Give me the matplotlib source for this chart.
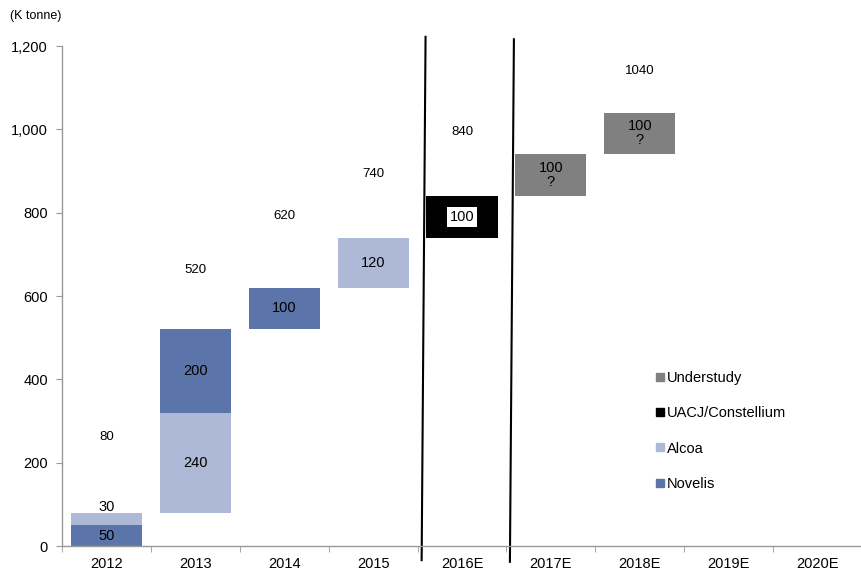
import matplotlib.pyplot as plt
from matplotlib.lines import Line2D
import numpy as np

plt.rcParams['font.family'] = ['Liberation Sans', 'DejaVu Sans']

categories = ['2012', '2013', '2014', '2015', '2016E', '2017E', '2018E', '2019E', '2020E']

novelis_val = [50, 200, 100, 0, 0, 0, 0, 0, 0]
novelis_bottom = [0, 320, 520, 0, 0, 0, 0, 0, 0]
alcoa_val = [30, 240, 0, 120, 0, 0, 0, 0, 0]
alcoa_bottom = [50, 80, 0, 620, 0, 0, 0, 0, 0]
uacj_val = [0, 0, 0, 0, 100, 0, 0, 0, 0]
uacj_bottom = [0, 0, 0, 0, 740, 0, 0, 0, 0]
under_val = [0, 0, 0, 0, 0, 100, 100, 0, 0]
under_bottom = [0, 0, 0, 0, 0, 840, 940, 0, 0]

totals = [80, 520, 620, 740, 840, None, 1040, None, None]
total_label_y = [262, 662, 792, 893, 994, None, 1140, None, None]

c_nov = '#5b74a9'
c_alc = '#adb9d7'
c_uacj = '#000000'
c_und = '#808080'

fig = plt.figure(figsize=(8.62, 5.76), dpi=100)
ax = fig.add_axes([62/862, 30/576, 800/862, 500/576])

x = np.arange(len(categories))
w = 0.8
ax.bar(x, novelis_val, w, bottom=novelis_bottom, color=c_nov)
ax.bar(x, alcoa_val, w, bottom=alcoa_bottom, color=c_alc)
ax.bar(x, uacj_val, w, bottom=uacj_bottom, color=c_uacj)
ax.bar(x, under_val, w, bottom=under_bottom, color=c_und)

fs = 10.5
# segment labels
for i in range(len(categories)):
    v, b = novelis_val[i], novelis_bottom[i]
    if v:
        ax.text(i, b + v/2, str(v), ha='center', va='center', fontsize=fs)
    v, b = alcoa_val[i], alcoa_bottom[i]
    if v:
        yy = b + v/2 if v >= 60 else b + v + 14
        ax.text(i, yy, str(v), ha='center', va='center', fontsize=fs)
    v, b = uacj_val[i], uacj_bottom[i]
    if v:
        ax.text(i, b + v/2, str(v), ha='center', va='center', fontsize=fs,
                bbox=dict(facecolor='white', edgecolor='none', pad=2))
    v, b = under_val[i], under_bottom[i]
    if v:
        ax.text(i, b + v/2, f'{v}\n?', ha='center', va='center', fontsize=fs,
                linespacing=1.0)

for i, t in enumerate(totals):
    if t is not None:
        ax.text(i, total_label_y[i], str(t), ha='center', va='center', fontsize=9.5)

ax.set_xlim(-0.5, len(categories) - 0.5)
ax.set_ylim(0, 1200)
ax.set_yticks(np.arange(0, 1201, 200))
ax.set_yticklabels([f'{v:,}' for v in range(0, 1201, 200)], fontsize=fs)
ax.set_xticks(x)
ax.set_xticklabels(categories, fontsize=fs)
ax.tick_params(axis='x', length=0, pad=8)
ax.set_xticks(np.arange(-0.5, len(categories), 1), minor=True)
ax.tick_params(axis='x', which='minor', length=4, color='#999999', direction='out')
ax.tick_params(axis='y', length=4, color='#999999', direction='out', pad=6)

for s in ['top', 'right']:
    ax.spines[s].set_visible(False)
for s in ['left', 'bottom']:
    ax.spines[s].set_color('#999999')
    ax.spines[s].set_linewidth(1.0)

# separator lines
ax.plot([3.59, 3.546], [1222, -34], color='black', lw=1.5, clip_on=False)
ax.plot([4.584, 4.539], [1216, -38], color='black', lw=1.5, clip_on=False)

fig.text(10/862, 1 - 16/576, '(K tonne)', fontsize=9, ha='left', va='center')

handles = [Line2D([], [], marker='s', ls='', color=c, markersize=6)
           for c in [c_und, c_uacj, c_alc, c_nov]]
labels = ['Understudy', 'UACJ/Constellium', 'Alcoa', 'Novelis']
ax.legend(handles, labels, loc='upper left', bbox_to_anchor=(648/862, 1 - 364/576),
          bbox_transform=fig.transFigure, frameon=False, fontsize=fs,
          labelspacing=1.45, handlelength=0.6, handletextpad=0.2, borderpad=0)

fig.savefig('out.png', dpi=100)
